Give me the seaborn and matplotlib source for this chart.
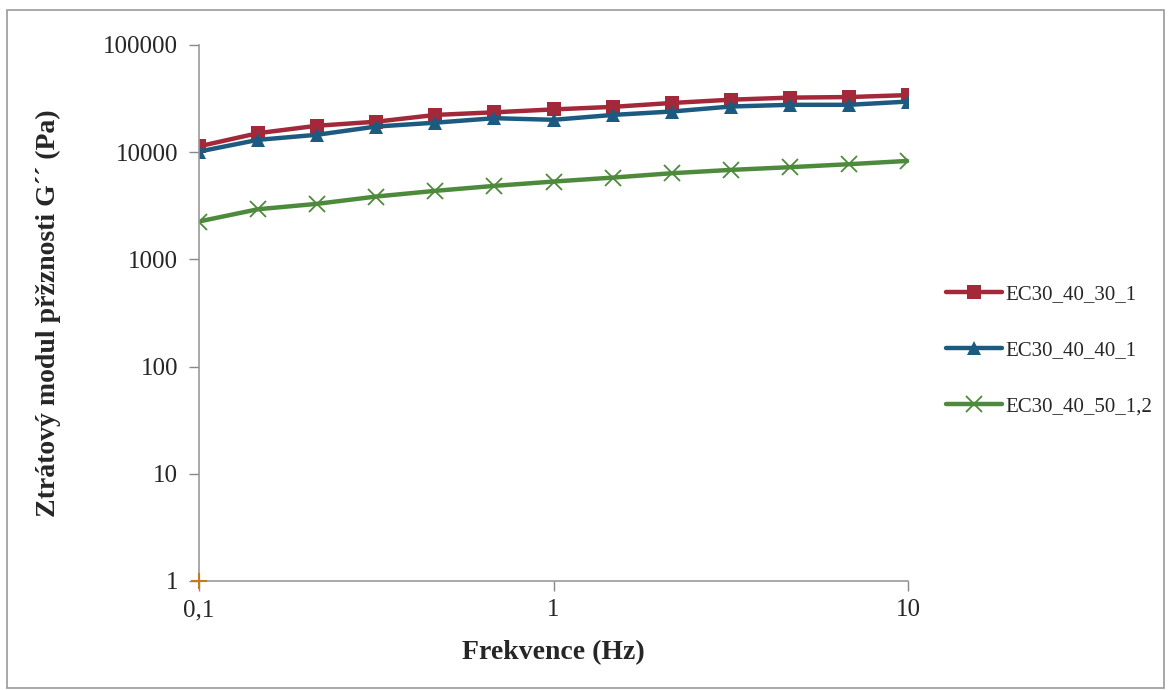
import numpy as np
import pandas as pd
import matplotlib
matplotlib.use("Agg")
import matplotlib.pyplot as plt
from matplotlib.patches import Rectangle
import seaborn as sns

# frekvence (Hz)
freq = [0.1, 0.1468, 0.2154, 0.3162, 0.4642, 0.6813, 1.0, 1.468, 2.154, 3.162, 4.642, 6.813, 10.0]

g_ec30_40_30 = [11300, 15000, 17600, 19200, 22200, 23500, 25000, 26400, 28700, 30800, 32200, 32600, 34000]
g_ec30_40_40 = [10100, 13000, 14500, 17300, 18800, 20700, 20000, 22200, 23900, 26600, 27600, 27600, 29600]
g_ec30_40_50 = [2250, 2930, 3290, 3850, 4350, 4840, 5310, 5780, 6350, 6820, 7230, 7710, 8280]

series_names = ["EC30_40_30_1", "EC30_40_40_1", "EC30_40_50_1,2"]
colors = ["#A3283A", "#1D5A80", "#4E8A3C"]
markers = ["s", "^", "X"]

# bod v rohu grafu (oranzovy kriz)
stray_x = [0.1]
stray_y = [1]

df = pd.DataFrame({
    "freq": freq * 3,
    "G": g_ec30_40_30 + g_ec30_40_40 + g_ec30_40_50,
    "serie": [series_names[0]] * len(freq) + [series_names[1]] * len(freq) + [series_names[2]] * len(freq),
})

sns.set_style("white")
plt.rcParams["font.family"] = ["Liberation Serif", "DejaVu Serif"]

fig = plt.figure(figsize=(11.69, 6.9), dpi=100)
ax = fig.add_axes([0.170, 0.158, 0.607, 0.777])

for name, c, m in zip(series_names, colors, markers):
    sub = df[df["serie"] == name]
    if m == "X":
        sns.lineplot(data=sub, x="freq", y="G", ax=ax, color=c, lw=3.2, marker="x",
                     markersize=11, markeredgewidth=1.3, markeredgecolor=c, label=name)
    else:
        sns.lineplot(data=sub, x="freq", y="G", ax=ax, color=c, lw=3.2, marker=m,
                     markersize=10.5, markeredgewidth=0, label=name)

ax.plot(stray_x, stray_y, marker="+", color="#C8781E", markersize=12, mew=1.5, ls="none",
        clip_on=False, zorder=5)

ax.set_xscale("log")
ax.set_yscale("log")
ax.set_xlim(0.1, 10)
ax.set_ylim(1, 100000)
ax.set_xticks([0.1, 1, 10])
ax.set_xticklabels(["0,1", "1", "10"])
ax.set_yticks([1, 10, 100, 1000, 10000, 100000])
ax.set_yticklabels(["1", "10", "100", "1000", "10000", "100000"])
ax.minorticks_off()
ax.tick_params(axis="both", labelsize=18, length=7, width=1, color="#888888", direction="out",
               left=True, bottom=True)
ax.tick_params(axis="x", pad=6)
ax.tick_params(axis="y", pad=8)

for s in ["top", "right"]:
    ax.spines[s].set_visible(False)
for s in ["left", "bottom"]:
    ax.spines[s].set_color("#999999")
    ax.spines[s].set_linewidth(1.2)

ax.set_xlabel("Frekvence (Hz)", fontsize=20, fontweight="bold", labelpad=14)
ax.set_ylabel("Ztrátový modul přžznosti G´´ (Pa)", fontsize=20, fontweight="bold", labelpad=30)

leg = ax.legend(loc="center left", bbox_to_anchor=(1.0, 0.43), frameon=False, fontsize=15,
                handlelength=2.7, handletextpad=0.15, labelspacing=1.75, borderaxespad=1.4)

fig.patches.append(Rectangle((0.006, 0.003), 0.99, 0.982, transform=fig.transFigure,
                             fill=False, edgecolor="#999999", lw=1.2))

fig.savefig("out.png", dpi=100)
